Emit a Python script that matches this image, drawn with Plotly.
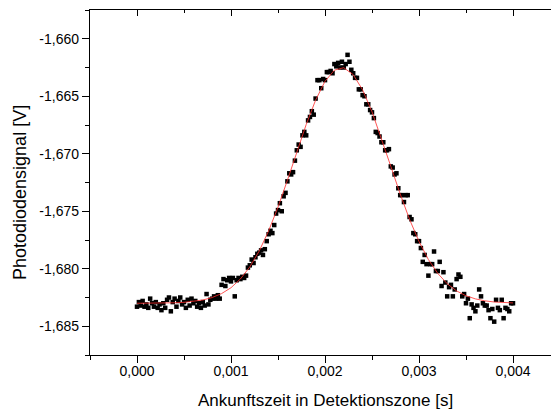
import plotly.graph_objects as go

# Photodiode signal, sampled every 20 µs from t = 0 to t = 4 ms
sample_interval = 0.00002
signal = [
    -1.6833, -1.6829, -1.6832, -1.6828, -1.6833,
    -1.6831, -1.6834, -1.6826, -1.6830, -1.6833,
    -1.6829, -1.6834, -1.6831, -1.6836, -1.6830,
    -1.6834, -1.6827, -1.6825, -1.6837, -1.6829,
    -1.6826, -1.6833, -1.6828, -1.6825, -1.6831,
    -1.6829, -1.6834, -1.6827, -1.6832, -1.6826,
    -1.6830, -1.6828, -1.6833, -1.6830, -1.6834,
    -1.6829, -1.6832, -1.6822, -1.6831, -1.6827,
    -1.6826, -1.6824, -1.6826, -1.6823, -1.6826,
    -1.6814, -1.6809, -1.6815, -1.6810, -1.6808,
    -1.6811, -1.6808, -1.6824, -1.6810, -1.6808,
    -1.6809, -1.6807, -1.6808, -1.6806, -1.6799,
    -1.6797, -1.6792, -1.6795, -1.6790, -1.6787,
    -1.6786, -1.6784, -1.6788, -1.6783, -1.6776,
    -1.6770, -1.6767, -1.6769, -1.6762, -1.6752,
    -1.6749, -1.6743, -1.6750, -1.6737, -1.6734,
    -1.6724, -1.6717, -1.6718, -1.6716, -1.6706,
    -1.6697, -1.6692, -1.6694, -1.6684, -1.6681,
    -1.6684, -1.6671, -1.6668, -1.6663, -1.6666,
    -1.6652, -1.6636, -1.6636, -1.6643, -1.6635,
    -1.6636, -1.6629, -1.6629, -1.6628, -1.6630,
    -1.6622, -1.6624, -1.6621, -1.6625, -1.6620,
    -1.6625, -1.6622, -1.6614, -1.6620, -1.6627,
    -1.6630, -1.6634, -1.6634, -1.6644, -1.6644,
    -1.6649, -1.6650, -1.6657, -1.6657, -1.6662,
    -1.6664, -1.6669, -1.6681, -1.6682, -1.6685,
    -1.6690, -1.6690, -1.6697, -1.6697, -1.6696,
    -1.6711, -1.6712, -1.6718, -1.6717, -1.6730,
    -1.6736, -1.6736, -1.6742, -1.6736, -1.6736,
    -1.6755, -1.6757, -1.6769, -1.6770, -1.6776,
    -1.6776, -1.6782, -1.6794, -1.6788, -1.6796,
    -1.6806, -1.6796, -1.6796, -1.6785, -1.6802,
    -1.6802, -1.6794, -1.6815, -1.6803, -1.6812,
    -1.6824, -1.6816, -1.6814, -1.6824, -1.6818,
    -1.6809, -1.6805, -1.6807, -1.6824, -1.6822,
    -1.6830, -1.6826, -1.6843, -1.6831, -1.6834,
    -1.6837, -1.6832, -1.6818, -1.6824, -1.6830,
    -1.6832, -1.6832, -1.6836, -1.6843, -1.6835,
    -1.6846, -1.6827, -1.6834, -1.6836, -1.6827,
    -1.6843, -1.6834, -1.6835, -1.6837, -1.6830,
    -1.6830,
]
arrival_time = [i * sample_interval for i in range(len(signal))]

# Gaussian fit, evaluated every 0.1 ms
fit_interval = 0.0001
fit_signal = [
    -1.68300, -1.68300, -1.68299, -1.68298, -1.68296, -1.68292, -1.68284,
    -1.68272, -1.68250, -1.68216, -1.68165, -1.68089, -1.67984, -1.67846,
    -1.67671, -1.67464, -1.67231, -1.66985, -1.66746, -1.66534, -1.66370,
    -1.66273, -1.66252, -1.66312, -1.66445, -1.66635, -1.66864, -1.67109,
    -1.67350, -1.67572, -1.67763, -1.67920, -1.68041, -1.68130, -1.68193,
    -1.68235, -1.68262, -1.68279, -1.68289, -1.68294, -1.68297,
]
fit_time = [i * fit_interval for i in range(len(fit_signal))]

# Axis ticks (German decimal comma, plain hyphen minus)
x_tick_values = [0.000, 0.001, 0.002, 0.003, 0.004]
x_tick_labels = ["0,000", "0,001", "0,002", "0,003", "0,004"]
y_tick_values = [-1.660, -1.665, -1.670, -1.675, -1.680, -1.685]
y_tick_labels = ["-1,660", "-1,665", "-1,670", "-1,675", "-1,680", "-1,685"]

x_range = [-0.0005, 0.0044043]
y_range = [-1.6875, -1.6575]

font_family = "Liberation Sans, Arial, sans-serif"
axis_color = "#000000"

fig = go.Figure()
fig.add_trace(go.Scatter(
    x=arrival_time, y=signal, mode="markers",
    marker=dict(symbol="square", size=4.5, color="#000000", line=dict(width=0)),
    showlegend=False,
))
fig.add_trace(go.Scatter(
    x=fit_time, y=fit_signal, mode="lines",
    line=dict(color="#ff2a2a", width=0.8),
    showlegend=False,
))

fig.update_layout(
    width=551, height=412,
    margin=dict(l=90, r=0, t=10, b=57),
    paper_bgcolor="white", plot_bgcolor="white",
    font=dict(family=font_family, size=14, color="#000000"),
    xaxis=dict(
        range=x_range, showgrid=False, zeroline=False,
        showline=True, linecolor=axis_color, linewidth=1.3,
        ticks="outside", ticklen=7, tickwidth=1.3, tickcolor=axis_color,
        tickmode="array", tickvals=x_tick_values, ticktext=x_tick_labels,
        ticklabelstandoff=-4,
        minor=dict(dtick=0.0005, tick0=0, ticks="outside", ticklen=4,
                   tickwidth=1.3, tickcolor=axis_color, showgrid=False),
        tickfont=dict(size=14),
    ),
    xaxis2=dict(
        matches="x", overlaying="x", side="top", showgrid=False, zeroline=False,
        showline=True, linecolor=axis_color, linewidth=1.3,
        ticks="inside", ticklen=6, tickwidth=1.3, tickcolor=axis_color,
        tickmode="array", tickvals=x_tick_values, showticklabels=False,
        minor=dict(dtick=0.0005, tick0=0, ticks="inside", ticklen=3,
                   tickwidth=1.3, tickcolor=axis_color, showgrid=False),
    ),
    yaxis=dict(
        range=y_range, showgrid=False, zeroline=False,
        showline=True, linecolor=axis_color, linewidth=1.3,
        ticks="outside", ticklen=7, tickwidth=1.3, tickcolor=axis_color,
        tickmode="array", tickvals=y_tick_values, ticktext=y_tick_labels,
        minor=dict(dtick=0.0025, tick0=-1.66, ticks="outside", ticklen=4,
                   tickwidth=1.3, tickcolor=axis_color, showgrid=False),
        tickfont=dict(size=14),
    ),
    annotations=[
        dict(text="Ankunftszeit in Detektionszone [s]", xref="x", yref="paper",
             x=0.002, y=0, xanchor="center", yanchor="middle", yshift=-45,
             showarrow=False, font=dict(size=17)),
        dict(text="Photodiodensignal [V]", xref="paper", yref="paper",
             x=0, y=0.4696, xanchor="center", yanchor="middle", xshift=-70,
             textangle=-90, showarrow=False, font=dict(size=18)),
    ],
)

# empty trace that carries the mirrored top axis
fig.add_trace(go.Scatter(x=[None], y=[None], xaxis="x2", showlegend=False,
                         hoverinfo="skip"))

fig.write_html("out.html")
